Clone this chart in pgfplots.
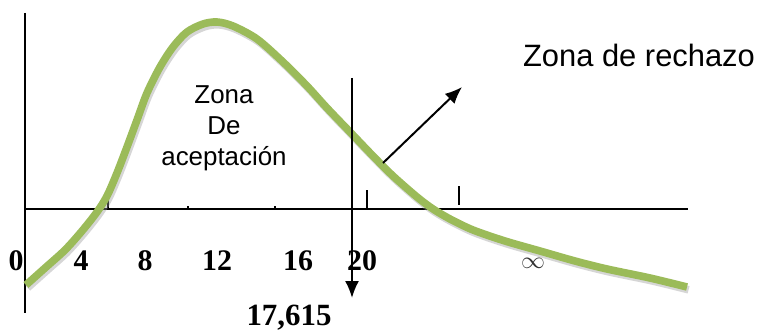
\documentclass[border=0pt]{standalone}
\usepackage{fontspec}
\setmainfont{Liberation Sans}
\newfontfamily\serif{Liberation Serif}
\usepackage{pgfplots}
\pgfplotsset{compat=1.18}
\usetikzlibrary{arrows.meta}
\definecolor{curvegreen}{HTML}{9BBB59}

% curve, in picture pixels (y grows downward)
\pgfplotstableread{
x y
26 285
45 268
65 250
82 231
97 212
107 196
117 173
127 147
137 120
147 93
160 67
173 47
187 32
203 24
217 22
233 26
257 39
283 62
307 86
327 108
350 132
373 156
393 176
417 197
433 209
450 219
473 230
505 241
540 251
575 261
607 269
650 278
687 287
}\curve

\begin{document}
\begin{tikzpicture}
\begin{axis}[scale only axis, width=380.5bp, height=165.5bp,
  xmin=0, xmax=761, ymin=0, ymax=331, y dir=reverse,
  axis lines=none, clip=false]
% frame lines
\addplot[no marks, black, line width=1bp] coordinates {(25,13) (25,313)};
\addplot[no marks, black, line width=1bp] coordinates {(25,209) (688,209)};
% ticks
\addplot[no marks, black, line width=1bp] coordinates {(108,193) (108,209)};
\addplot[no marks, black, line width=1bp] coordinates {(367,190) (367,208)};
\addplot[no marks, black, line width=1bp] coordinates {(459,186) (459,205)};
\addplot[no marks, black, line width=0.8bp] coordinates {(188,206) (188,209)};
\addplot[no marks, black, line width=0.8bp] coordinates {(275,206) (275,209)};
% curve shadow and curve
\addplot[no marks, black!40, opacity=0.4, line width=3.8bp, smooth, xshift=0.8bp, yshift=-1.4bp] table {\curve};
\addplot[no marks, curvegreen, line width=3.8bp, smooth] table {\curve};
% arrows
\addplot[no marks, black, line width=1bp, -{Latex[length=8.5bp,width=7bp]}] coordinates {(352,78) (352,298)};
\addplot[no marks, black, line width=1bp, -{Latex[length=8.5bp,width=7bp]}] coordinates {(383,163) (462,87)};
% labels
\node[font=\serif\bfseries\fontsize{15}{15}\selectfont] at (axis cs:16,261) {0};
\node[font=\serif\bfseries\fontsize{15}{15}\selectfont] at (axis cs:81,261) {4};
\node[font=\serif\bfseries\fontsize{15}{15}\selectfont] at (axis cs:145,261) {8};
\node[font=\serif\bfseries\fontsize{15}{15}\selectfont] at (axis cs:217,261) {12};
\node[font=\serif\bfseries\fontsize{15}{15}\selectfont] at (axis cs:298,261) {16};
\node[font=\serif\bfseries\fontsize{15}{15}\selectfont] at (axis cs:362,261) {20};
\node[font=\serif\bfseries\fontsize{15.5}{15.5}\selectfont] at (axis cs:289,318) {17,615};
\node[font=\fontsize{11.5}{11.5}\selectfont, black!80] at (axis cs:533,263) {$\infty$};
\node[font=\fontsize{15.5}{15.5}\selectfont] at (axis cs:639,55) {Zona de rechazo};
\node[font=\fontsize{13}{15.5}\selectfont, align=center] at (axis cs:224,128) {Zona\\De\\aceptación};
\end{axis}
\pgfresetboundingbox
\path[use as bounding box] (current axis.south west) rectangle (current axis.north east);
\end{tikzpicture}
\end{document}
